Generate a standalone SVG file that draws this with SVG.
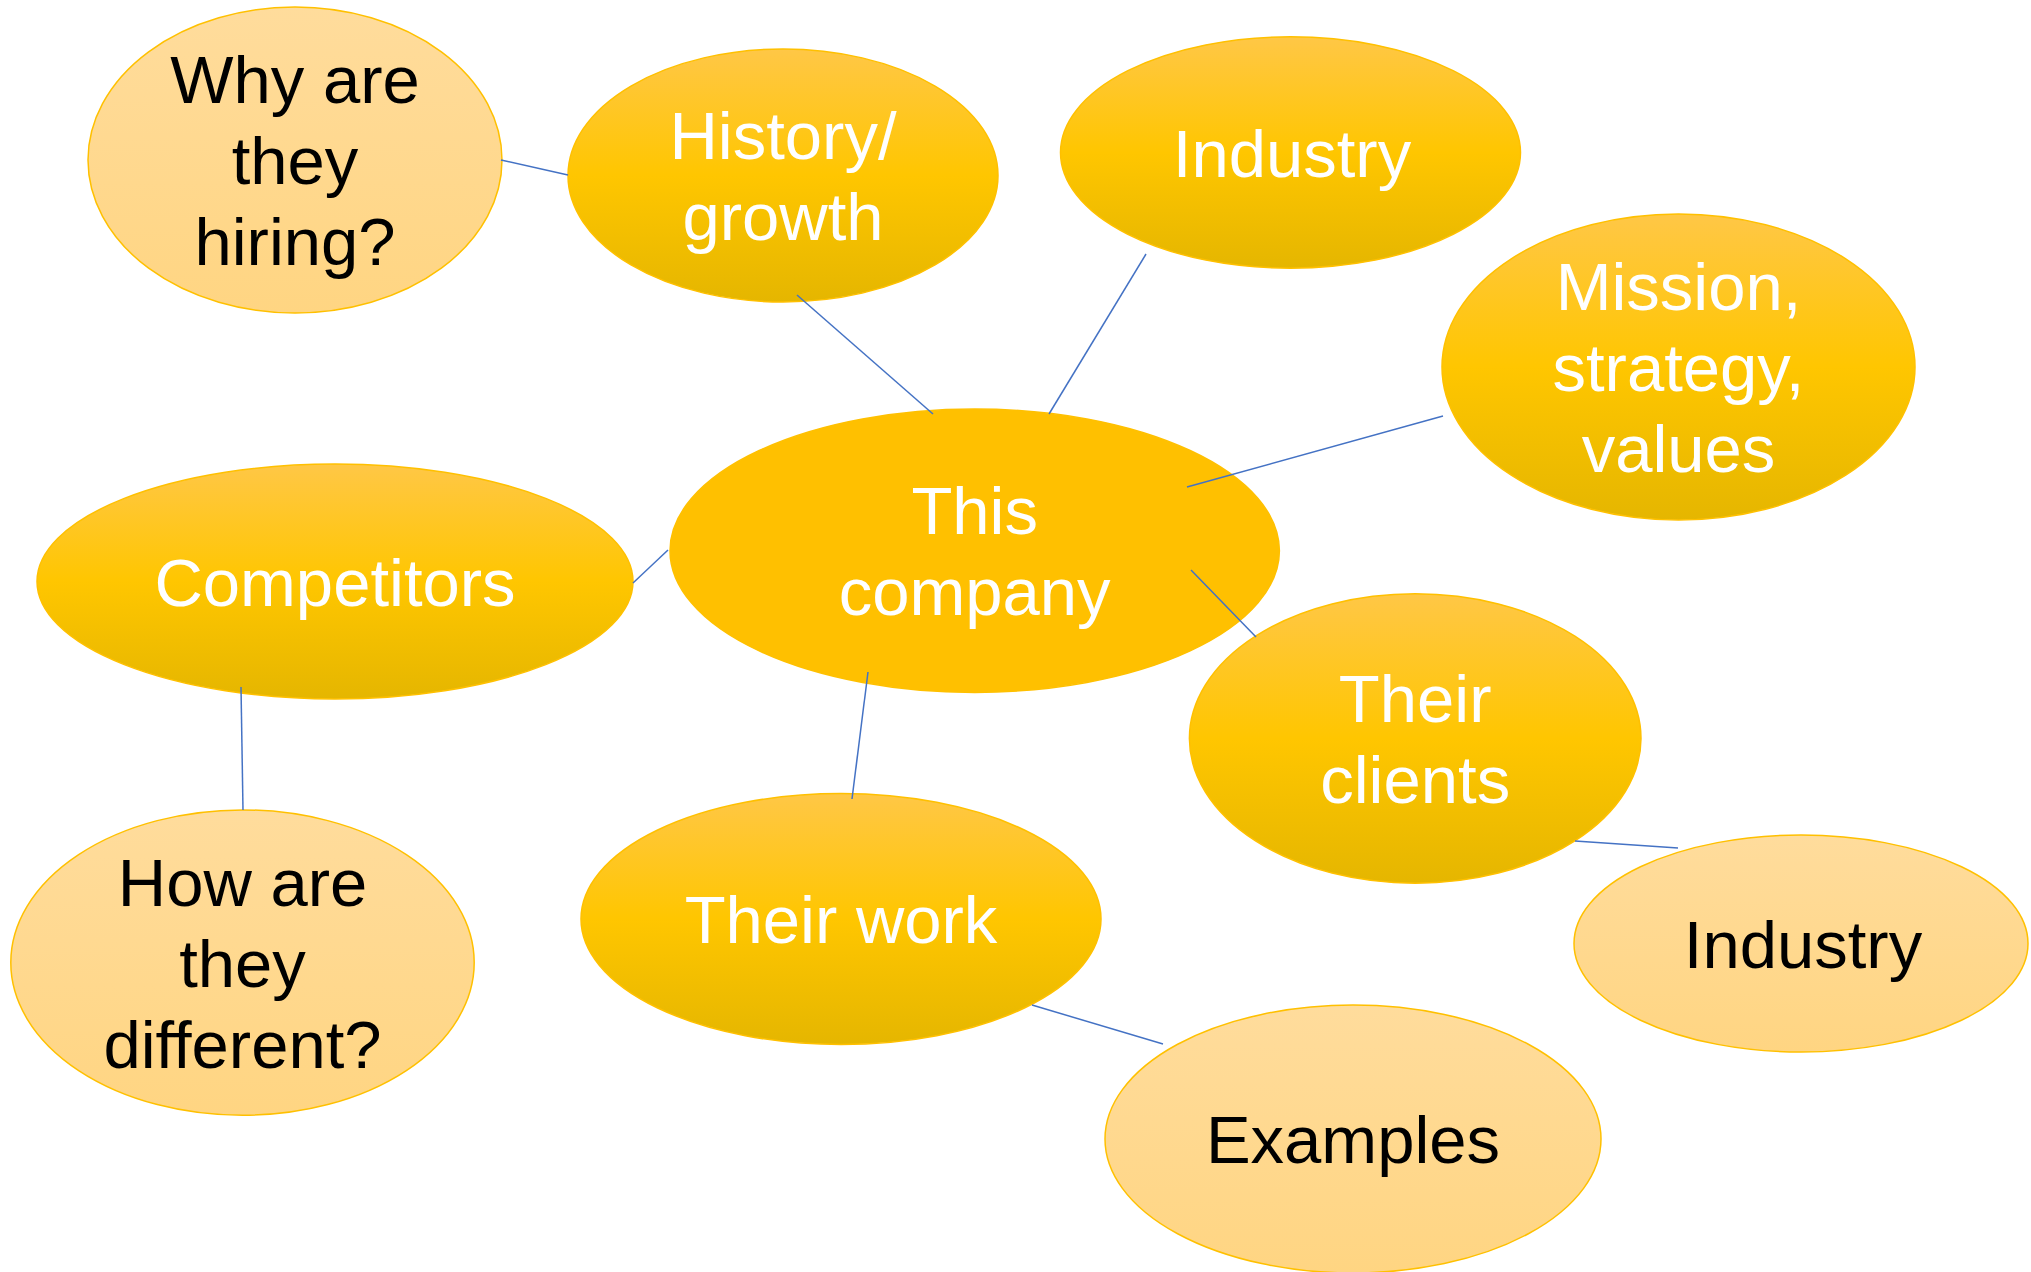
<svg xmlns="http://www.w3.org/2000/svg" width="2031" height="1272" viewBox="0 0 2031 1272">
<style>
.t{font-family:"Liberation Sans",Arial,sans-serif;font-size:67px;text-anchor:middle}
.w{fill:#FFFFFF}
.b{fill:#000000}
.dk{fill:url(#gd);stroke:#FFC000;stroke-width:1.5}
.lt{fill:url(#gl);stroke:#FFC000;stroke-width:1.5}
.ct{fill:#FFC000;stroke:#FFC000;stroke-width:1.5}
.c{stroke:#4472C4;stroke-width:1.5;fill:none}
</style>
<defs>
<linearGradient id="gd" x1="0" y1="0" x2="0" y2="1">
<stop offset="0" stop-color="#FFC746"/>
<stop offset="0.5" stop-color="#FFC600"/>
<stop offset="1" stop-color="#E5B600"/>
</linearGradient>
<linearGradient id="gl" x1="0" y1="0" x2="0" y2="1">
<stop offset="0" stop-color="#FFDC9C"/>
<stop offset="1" stop-color="#FFD582"/>
</linearGradient>
</defs>
<rect width="2031" height="1272" fill="#FFFFFF"/>
<g id="why">
<ellipse class="lt" cx="295" cy="160" rx="207" ry="153"/>
<text class="t b" x="295" y="103">Why are</text>
<text class="t b" x="295" y="184">they</text>
<text class="t b" x="295" y="265">hiring?</text>
</g>
<g id="history">
<ellipse class="dk" cx="783" cy="175.5" rx="215" ry="126.5"/>
<text class="t w" x="783" y="159">History/</text>
<text class="t w" x="783" y="240">growth</text>
</g>
<g id="industry1">
<ellipse class="dk" cx="1290.5" cy="152.5" rx="230" ry="115.7"/>
<text class="t w" x="1292" y="177">Industry</text>
</g>
<g id="mission">
<ellipse class="dk" cx="1678.5" cy="367" rx="236.5" ry="153"/>
<text class="t w" x="1678.5" y="310">Mission,</text>
<text class="t w" x="1678.5" y="391">strategy,</text>
<text class="t w" x="1678.5" y="472">values</text>
</g>
<g id="company">
<ellipse class="ct" cx="974.7" cy="550.7" rx="304.7" ry="141.7"/>
<text class="t w" x="974.7" y="534">This</text>
<text class="t w" x="974.7" y="615">company</text>
</g>
<g id="competitors">
<ellipse class="dk" cx="335" cy="581.5" rx="298" ry="117.5"/>
<text class="t w" x="335" y="606">Competitors</text>
</g>
<g id="clients">
<ellipse class="dk" cx="1415.2" cy="738.5" rx="225.8" ry="144.7"/>
<text class="t w" x="1415.2" y="722">Their</text>
<text class="t w" x="1415.2" y="803">clients</text>
</g>
<g id="work">
<ellipse class="dk" cx="841" cy="919" rx="260" ry="125.5"/>
<text class="t w" x="841" y="943">Their work</text>
</g>
<g id="different">
<ellipse class="lt" cx="242.5" cy="962.6" rx="231.7" ry="152.7"/>
<text class="t b" x="242.5" y="906">How are</text>
<text class="t b" x="242.5" y="987">they</text>
<text class="t b" x="242.5" y="1068">different?</text>
</g>
<g id="industry2">
<ellipse class="lt" cx="1801" cy="943.5" rx="227" ry="108.5"/>
<text class="t b" x="1803" y="968">Industry</text>
</g>
<g id="examples">
<ellipse class="lt" cx="1353" cy="1139" rx="248" ry="134"/>
<text class="t b" x="1353" y="1163">Examples</text>
</g>
<g id="connectors">
<line class="c" x1="501" y1="160" x2="568" y2="175"/>
<line class="c" x1="797" y1="295" x2="933" y2="414"/>
<line class="c" x1="1146" y1="254" x2="1049" y2="414"/>
<line class="c" x1="1443" y1="416" x2="1187" y2="487"/>
<line class="c" x1="1191" y1="570" x2="1256" y2="637"/>
<line class="c" x1="633" y1="583" x2="668" y2="550"/>
<line class="c" x1="241" y1="687" x2="243" y2="810"/>
<line class="c" x1="868" y1="672" x2="852" y2="799"/>
<line class="c" x1="1032" y1="1005" x2="1163" y2="1044"/>
<line class="c" x1="1575" y1="841" x2="1678" y2="848"/>
</g>
</svg>
